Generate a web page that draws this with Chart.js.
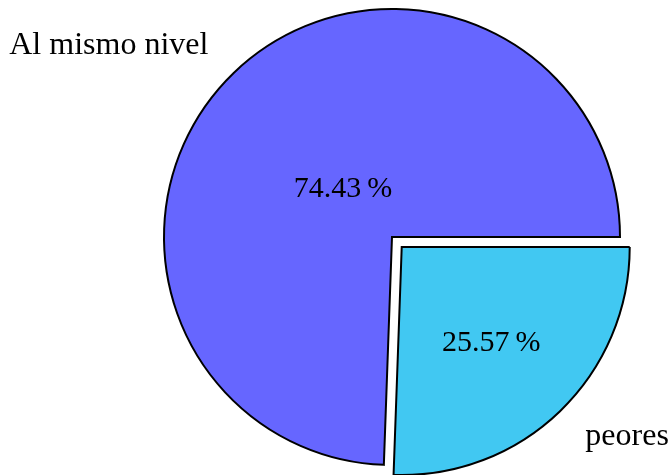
<!DOCTYPE html>
<html>
<head>
<meta charset="utf-8">
<script src="https://cdn.jsdelivr.net/npm/chart.js@4"></script>
<style>
  html, body { margin: 0; padding: 0; background: #fff; }
  canvas { display: block; }
</style>
</head>
<body>
<canvas id="grafico-pie" width="668" height="475"></canvas>
<script>
// Datos del gráfico
var categorias = ["peores", "Al mismo nivel"];
var porcentajes = [25.57, 74.43];
var etiquetasPct = ["25.57\u2009%", "74.43\u2009%"];

// Etiquetas tipo pgf-pie: nombre afuera, porcentaje adentro
var etiquetasPie = {
  id: "etiquetasPie",
  afterDatasetsDraw: function (chart, args, opts) {
    var ctx = chart.ctx;
    var meta = chart.getDatasetMeta(0);
    var offsets = chart.data.datasets[0].offset;
    ctx.save();
    ctx.fillStyle = "#000";
    ctx.textBaseline = "middle";
    meta.data.forEach(function (arc, i) {
      var p = arc.getProps(["x", "y", "startAngle", "endAngle", "outerRadius"], true);
      var mid = (p.startAngle + p.endAngle) / 2;
      var dx = Math.cos(mid), dy = Math.sin(mid);
      // Chart.js desplaza el arco offset/4
      var off = (offsets[i] || 0) / 4;
      var cx = p.x + off * dx, cy = p.y + off * dy;
      var r = p.outerRadius;

      // porcentaje
      ctx.font = opts.fuentePct;
      ctx.textAlign = "center";
      ctx.fillText(etiquetasPct[i], cx + dx * r * opts.radioPct[i], cy + dy * r * opts.radioPct[i] + 3);

      // nombre de la categoría
      ctx.font = opts.fuenteNombre;
      ctx.textAlign = dx < 0 ? "right" : "left";
      ctx.fillText(categorias[i], cx + dx * r * opts.radioNombre, cy + dy * r * opts.radioNombre - 1);
    });
    ctx.restore();
  }
};

var graficoPie = document.getElementById("grafico-pie").getContext("2d");

new Chart(graficoPie, {
  type: "pie",
  data: {
    labels: categorias,
    datasets: [
      {
        data: porcentajes,
        backgroundColor: ["#41C8F2", "#6666FF"],
        borderColor: "#000",
        borderWidth: 2,
        borderJoinStyle: "miter",
        offset: [56, 0],
      },
    ],
  },
  options: {
    responsive: false,
    animation: false,
    rotation: 90,
    radius: 228,
    layout: {
      padding: { left: 116, right: 0, top: 0, bottom: 1 },
    },
    plugins: {
      legend: { display: false },
      tooltip: { enabled: false },
      title: { display: false },
      etiquetasPie: {
        fuentePct: "30px 'Liberation Serif'",
        fuenteNombre: "32px 'Liberation Serif'",
        radioPct: [0.565, 0.31],
        radioNombre: 1.16,
      },
    },
  },
  plugins: [etiquetasPie],
});
</script>
</body>
</html>
